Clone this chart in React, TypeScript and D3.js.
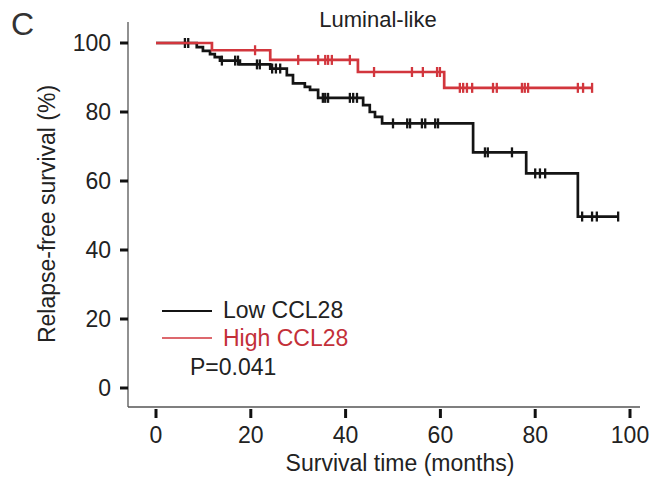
import React from "react";
import * as d3 from "d3";

const W = 656;
const H = 477;

const xTicks = [0, 20, 40, 60, 80, 100];
const yTicks = [0, 20, 40, 60, 80, 100];

// Low CCL28 (black) step curve: times of drops and survival after drop
const lowTimes = [0, 8.6, 9.9, 11.4, 12.4, 13.5, 17.7, 24.1, 27.6, 28.9, 31.4, 32.5, 34.2, 43.7, 45.1, 46.2, 47.7, 66.9, 78.1, 89.0];
const lowSurv = [100, 98.8, 97.7, 96.8, 95.9, 94.9, 93.8, 92.6, 90.7, 88.3, 87.3, 86.4, 84.1, 82.0, 80.0, 78.6, 76.7, 68.3, 62.2, 49.7];
const lowEnd = 97.5;
const lowCensor = [6.1, 6.8, 13.9, 16.7, 17.3, 21.3, 21.9, 24.5, 25.3, 26.2, 35.2, 35.7, 36.3, 40.9, 41.6, 42.4, 50.0, 53.0, 53.6, 56.1, 56.8, 58.9, 59.5, 69.4, 70.0, 75.1, 80.0, 81.0, 82.1, 89.9, 92.0, 93.0, 97.5];

// High CCL28 (red)
const highTimes = [0, 11.8, 24.1, 42.6, 60.8];
const highSurv = [100, 97.9, 95.1, 91.6, 87.0];
const highEnd = 92.0;
const highCensor = [20.9, 30.0, 34.2, 35.7, 36.3, 37.1, 40.9, 46.0, 54.0, 56.3, 59.3, 59.9, 64.1, 64.8, 65.6, 66.7, 71.1, 71.9, 77.2, 77.8, 78.5, 89.0, 90.1, 92.0];

const legendLabels = ["Low CCL28", "High CCL28"];
const pText = "P=0.041";
const title = "Luminal-like";
const panel = "C";
const xTitle = "Survival time (months)";
const yTitle = "Relapse-free survival (%)";

const BLACK = "#141414";
const RED = "#d2363d";
const FONT = "'Liberation Sans', Arial, sans-serif";

function survAt(times: number[], surv: number[], t: number) {
  let v = surv[0];
  for (let i = 0; i < times.length; i++) if (times[i] <= t) v = surv[i];
  return v;
}

export default function App() {
  const x = d3.scaleLinear().domain([0, 100]).range([156, 630]);
  const y = d3.scaleLinear().domain([0, 100]).range([388, 43]);

  const line = d3
    .line<[number, number]>()
    .x((d) => x(d[0]))
    .y((d) => y(d[1]))
    .curve(d3.curveStepAfter);

  const series = [
    { times: lowTimes, surv: lowSurv, end: lowEnd, censor: lowCensor, color: BLACK },
    { times: highTimes, surv: highSurv, end: highEnd, censor: highCensor, color: RED },
  ];

  const axisX = 128;
  const axisY = 407;

  return (
    <svg width={W} height={H} style={{ position: "absolute", left: 0, top: 0, background: "#fff" }} fontFamily={FONT}>
      <rect width={W} height={H} fill="#fff" />
      <text x={11} y={35} fontSize={32} fill="#333">{panel}</text>
      <text x={378} y={27} fontSize={22} textAnchor="middle" fill="#222">{title}</text>

      {/* axes lines */}
      <line x1={axisX} x2={axisX} y1={22} y2={axisY} stroke="#555" strokeWidth={1.3} />
      <line x1={axisX} x2={640} y1={axisY} y2={axisY} stroke="#555" strokeWidth={1.3} />

      {yTicks.map((t) => (
        <g key={"y" + t}>
          <line x1={120} x2={axisX} y1={y(t)} y2={y(t)} stroke="#111" strokeWidth={3} />
          <text x={111} y={y(t)} dy="0.35em" fontSize={23} textAnchor="end" fill="#222">{t}</text>
        </g>
      ))}
      {xTicks.map((t) => (
        <g key={"x" + t}>
          <line x1={x(t)} x2={x(t)} y1={409} y2={418} stroke="#111" strokeWidth={3} />
          <text x={x(t)} y={443} fontSize={23} textAnchor="middle" fill="#222">{t}</text>
        </g>
      ))}
      <text x={400} y={471} fontSize={23} textAnchor="middle" fill="#222">{xTitle}</text>
      <text transform={`translate(55,214) rotate(-90)`} fontSize={23} textAnchor="middle" fill="#222">{yTitle}</text>

      {series.map((s, si) => {
        const pts: [number, number][] = s.times.map((t, i) => [t, s.surv[i]] as [number, number]);
        pts.push([s.end, s.surv[s.surv.length - 1]]);
        return (
          <g key={si}>
            <path d={line(pts) || ""} fill="none" stroke={s.color} strokeWidth={2.7} />
            {s.censor.map((c, ci) => {
              const v = survAt(s.times, s.surv, c);
              return (
                <line key={ci} x1={x(c)} x2={x(c)} y1={y(v) - 5} y2={y(v) + 5} stroke={s.color} strokeWidth={2.3} />
              );
            })}
          </g>
        );
      })}

      {/* legend */}
      <line x1={162} x2={212} y1={311} y2={311} stroke={BLACK} strokeWidth={2.2} />
      <text x={223} y={318} fontSize={23} fill="#222">{legendLabels[0]}</text>
      <line x1={162} x2={212} y1={338} y2={338} stroke={RED} strokeWidth={2.2} opacity={0.75} />
      <text x={223} y={346} fontSize={23} fill="#c33039">{legendLabels[1]}</text>
      <text x={190} y={375} fontSize={23} fill="#222">{pText}</text>
    </svg>
  );
}
